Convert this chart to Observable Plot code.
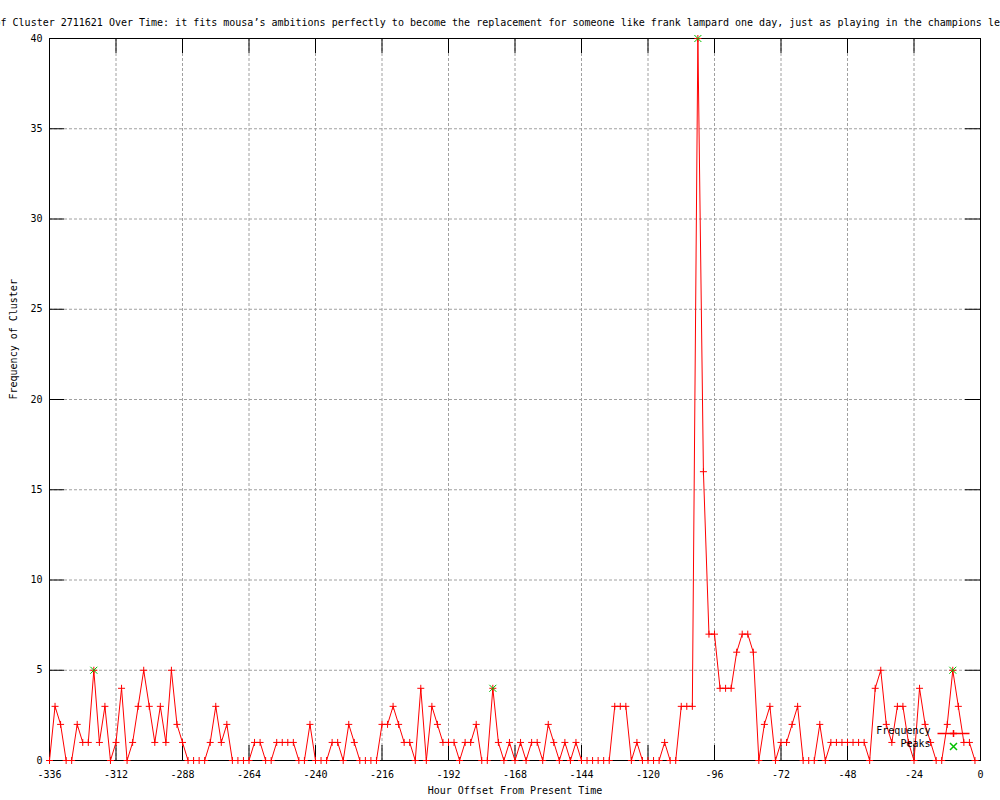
<!DOCTYPE html>
<html>
<head>
<meta charset="utf-8">
<script src="https://cdn.jsdelivr.net/npm/d3@7"></script>
<script src="https://cdn.jsdelivr.net/npm/@observablehq/plot@0.6"></script>
<style>
  html, body { margin: 0; padding: 0; background: white; overflow: hidden; }
  svg { overflow: hidden; }
</style>
</head>
<body>
<div id="chart"></div>
<script>
// ---- data ----
const titleText = "Frequency of Cluster 2711621 Over Time: it fits mousa\u2019s ambitions perfectly to become the replacement for someone like frank lampard one day, just as playing in the champions league";
const xLabel = "Hour Offset From Present Time";
const yLabel = "Frequency of Cluster";

const hours = [
  -336,-334,-332,-330,-328,-326,-324,-322,-320,-318,-316,-314,
  -312,-310,-308,-306,-304,-302,-300,-298,-296,-294,-292,-290,
  -288,-286,-284,-282,-280,-278,-276,-274,-272,-270,-268,-266,
  -264,-262,-260,-258,-256,-254,-252,-250,-248,-246,-244,-242,
  -240,-238,-236,-234,-232,-230,-228,-226,-224,-222,-220,-218,
  -216,-214,-212,-210,-208,-206,-204,-202,-200,-198,-196,-194,
  -192,-190,-188,-186,-184,-182,-180,-178,-176,-174,-172,-170,
  -168,-166,-164,-162,-160,-158,-156,-154,-152,-150,-148,-146,
  -144,-142,-140,-138,-136,-134,-132,-130,-128,-126,-124,-122,
  -120,-118,-116,-114,-112,-110,-108,-106,-104,-102,-100,-98,
  -96,-94,-92,-90,-88,-86,-84,-82,-80,-78,-76,-74,
  -72,-70,-68,-66,-64,-62,-60,-58,-56,-54,-52,-50,
  -48,-46,-44,-42,-40,-38,-36,-34,-32,-30,-28,-26,
  -24,-22,-20,-18,-16,-14,-12,-10,-8,-6,-4,-2
];
const frequency = [
  0,3,2,0,0,2,1,1,5,1,3,0,
  1,4,0,1,3,5,3,1,3,1,5,2,
  1,0,0,0,0,1,3,1,2,0,0,0,
  0,1,1,0,0,1,1,1,1,0,0,2,
  0,0,0,1,1,0,2,1,0,0,0,0,
  2,2,3,2,1,1,0,4,0,3,2,1,
  1,1,0,1,1,2,0,0,4,1,0,1,
  0,1,0,1,1,0,2,1,0,1,0,1,
  0,0,0,0,0,0,3,3,3,0,1,0,
  0,0,0,1,0,0,3,3,3,40,16,7,
  7,4,4,4,6,7,7,6,0,2,3,0,
  1,1,2,3,0,0,0,2,0,1,1,1,
  1,1,1,1,0,4,5,2,1,3,3,1,
  0,4,2,1,0,0,2,5,3,1,1,0
];
const peakHours = [-320, -176, -102, -10];
const peakValues = [5, 4, 40, 5];

const xTicks = [-336,-312,-288,-264,-240,-216,-192,-168,-144,-120,-96,-72,-48,-24,0];
const yTicks = [0,5,10,15,20,25,30,35,40];

const legendLabels = ["Frequency", "Peaks"];

// ---- tables ----
const series = hours.map((h, i) => ({hour: h, freq: frequency[i]}));
const peaks = peakHours.map((h, i) => ({hour: h, freq: peakValues[i]}));

// ---- layout ----
const W = 1000, H = 800;
const mL = 49, mR = 20, mT = 38, mB = 40;
const plotW = W - mL - mR, plotH = H - mT - mB;
const tickLen = 15;
const FONT = "DejaVu Sans Mono";

// custom gnuplot-like symbols (stroked)
const plusSym = {draw(ctx, size) { const r = Math.sqrt(size / Math.PI);
  ctx.moveTo(-r, 0); ctx.lineTo(r, 0); ctx.moveTo(0, -r); ctx.lineTo(0, r); }};
const timesSym = {draw(ctx, size) { const r = Math.sqrt(size / Math.PI);
  ctx.moveTo(-r, -r); ctx.lineTo(r, r); ctx.moveTo(-r, r); ctx.lineTo(r, -r); }};
const hlineSym = {draw(ctx, size) { const r = Math.sqrt(size / Math.PI);
  ctx.moveTo(-r, 0); ctx.lineTo(r, 0); }};

const red = "#ff0000", green = "#00c000", gridGray = "#a0a0a0";

const chart = Plot.plot({
  width: W, height: H,
  marginLeft: mL, marginRight: mR, marginTop: mT, marginBottom: mB,
  style: {fontFamily: FONT, fontSize: "10px", background: "white", color: "black", overflow: "hidden"},
  x: {domain: [-336, 0], inset: 0},
  y: {domain: [0, 40], inset: 0},
  marks: [
    // grid
    Plot.gridX(xTicks, {stroke: gridGray, strokeOpacity: 1, strokeDasharray: "3,2"}),
    Plot.gridY(yTicks, {stroke: gridGray, strokeOpacity: 1, strokeDasharray: "3,2"}),
    // inward ticks (mirrored)
    Plot.tickX(xTicks, {x: d => d, insetTop: plotH - tickLen, stroke: "black"}),
    Plot.tickX(xTicks, {x: d => d, insetBottom: plotH - tickLen, stroke: "black"}),
    Plot.tickY(yTicks, {y: d => d, insetRight: plotW - tickLen, stroke: "black"}),
    Plot.tickY(yTicks, {y: d => d, insetLeft: plotW - tickLen, stroke: "black"}),
    // tick labels
    Plot.axisX(xTicks, {tickSize: 0, tickPadding: 10, tickFormat: d => String(d), label: null}),
    Plot.axisY(yTicks, {tickSize: 0, tickPadding: 7, tickFormat: d => String(d), label: null}),
    Plot.frame({stroke: "black"}),
    // data
    Plot.line(series, {x: "hour", y: "freq", stroke: red, strokeWidth: 1}),
    Plot.dot(series, {x: "hour", y: "freq", symbol: plusSym, r: 3.5, stroke: red, fill: "none", strokeWidth: 1}),
    Plot.dot(peaks, {x: "hour", y: "freq", symbol: timesSym, r: 3.5, stroke: green, fill: "none", strokeWidth: 1}),
    // legend
    Plot.text([legendLabels[0]], {text: d => d, frameAnchor: "bottom-right", textAnchor: "end", dx: -50, dy: -27, fill: "black"}),
    Plot.text([legendLabels[1]], {text: d => d, frameAnchor: "bottom-right", textAnchor: "end", dx: -50, dy: -14, fill: "black"}),
    Plot.dot([legendLabels[0]], {frameAnchor: "bottom-right", dx: -27, dy: -27, symbol: hlineSym, r: 16, stroke: red, fill: "none"}),
    Plot.dot([legendLabels[0]], {frameAnchor: "bottom-right", dx: -27, dy: -27, symbol: plusSym, r: 3.5, stroke: red, fill: "none"}),
    Plot.dot([legendLabels[1]], {frameAnchor: "bottom-right", dx: -27, dy: -14, symbol: timesSym, r: 3.5, stroke: green, fill: "none"}),
    // axis titles and chart title
    Plot.text([xLabel], {text: d => d, frameAnchor: "bottom", dy: 33, fill: "black"}),
    Plot.text([yLabel], {text: d => d, frameAnchor: "left", dx: -36, rotate: -90, fill: "black"}),
    Plot.text([titleText], {text: d => d, frameAnchor: "top-left", textAnchor: "start", dx: -115.2, dy: -20, fill: "black"})
  ]
});
document.getElementById("chart").appendChild(chart);
</script>
</body>
</html>
